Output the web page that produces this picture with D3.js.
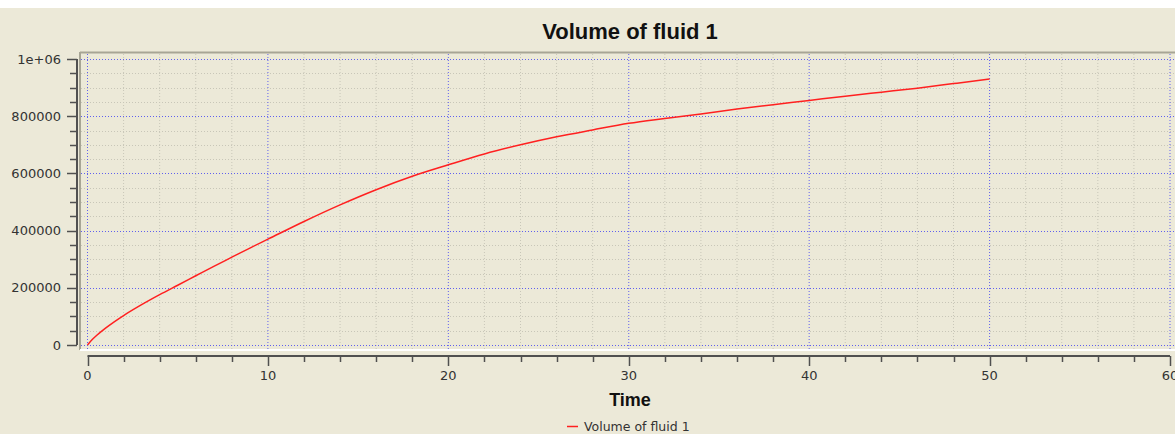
<!DOCTYPE html>
<html>
<head>
<meta charset="utf-8">
<script src="https://cdn.jsdelivr.net/npm/d3@7"></script>
<style>
  body { margin: 0; background: #fff; }
  svg { display: block; }
</style>
</head>
<body>
<script>
// values
var times = [0, 0.25, 0.5, 1, 1.5, 2, 3, 4, 5, 6, 7, 8, 9, 10, 12, 14, 16, 18, 20, 22, 24, 26, 28, 30, 32, 34, 36, 38, 40, 42, 44, 46, 48, 50];
var volumes = [0, 18000, 33000, 59000, 82000, 103000, 141000, 176000, 209000, 242000, 275000, 307000, 339000, 370000, 432000, 490000, 543000, 590000, 630000, 668000, 700000, 728000, 752000, 775000, 792000, 808000, 825000, 840000, 855000, 870000, 884000, 898000, 914000, 930000];
var yTickLabels = ["0", "200000", "400000", "600000", "800000", "1e+06"];
var seriesName = "Volume of fluid 1";

var W = 1175, H = 434;
var bg = "#ece9d8";

var svg = d3.select("body").append("svg")
  .attr("width", W)
  .attr("height", H);

svg.append("rect").attr("x", 0).attr("y", 8).attr("width", W).attr("height", H - 8).attr("fill", bg);

var x = d3.scaleLinear().domain([0, 60]).range([87.5, 1170]);
var y = d3.scaleLinear().domain([0, 1e6]).range([345, 59]);

// plot frame (inset look)
svg.append("line").attr("x1", 80).attr("x2", W).attr("y1", 52.5).attr("y2", 52.5)
  .attr("stroke", "#a7a595").attr("stroke-width", 2);
svg.append("line").attr("x1", 80).attr("x2", 80).attr("y1", 52).attr("y2", 350)
  .attr("stroke", "#a7a595").attr("stroke-width", 2);
svg.append("line").attr("x1", 80).attr("x2", W).attr("y1", 350).attr("y2", 350)
  .attr("stroke", "#ffffff").attr("stroke-width", 2);

var grid = svg.append("g");

// minor grid
d3.range(0, 61, 2).filter(function (d) { return d % 10 != 0; }).forEach(function (d) {
  grid.append("line").attr("x1", x(d)).attr("x2", x(d)).attr("y1", 54).attr("y2", 349)
    .attr("stroke", "#c8c6b8").attr("stroke-width", 1).attr("stroke-dasharray", "1,2");
});
d3.range(0, 1000001, 50000).filter(function (d) { return d % 200000 != 0; }).forEach(function (d) {
  grid.append("line").attr("x1", 81).attr("x2", W).attr("y1", Math.round(y(d)) + 0.5).attr("y2", Math.round(y(d)) + 0.5)
    .attr("stroke", "#c8c6b8").attr("stroke-width", 1).attr("stroke-dasharray", "1,2");
});

// major grid
d3.range(0, 61, 10).forEach(function (d) {
  grid.append("line").attr("x1", x(d)).attr("x2", x(d)).attr("y1", 54).attr("y2", 349)
    .attr("stroke", "#6060ee").attr("stroke-width", 1).attr("stroke-dasharray", "1,2");
});
d3.range(0, 1000001, 200000).forEach(function (d) {
  grid.append("line").attr("x1", 81).attr("x2", W).attr("y1", Math.round(y(d)) + 0.5).attr("y2", Math.round(y(d)) + 0.5)
    .attr("stroke", "#6060ee").attr("stroke-width", 1).attr("stroke-dasharray", "1,2");
});

// curve
var pts = times.map(function (t, i) { return [t, volumes[i]]; });
var line = d3.line()
  .x(function (d) { return x(d[0]); })
  .y(function (d) { return y(d[1]); })
  .curve(d3.curveMonotoneX);
svg.append("path").datum(pts)
  .attr("d", line)
  .attr("fill", "none")
  .attr("stroke", "#ff2020")
  .attr("stroke-width", 1.5);

// y axis
var axisColor = "#505050";
var yAxisG = svg.append("g").attr("transform", "translate(77,0)");
yAxisG.append("line").attr("x1", 0).attr("x2", 0).attr("y1", y(1e6)).attr("y2", y(0))
  .attr("stroke", axisColor).attr("stroke-width", 2);
d3.range(0, 1000001, 50000).forEach(function (d) {
  var major = d % 200000 == 0;
  yAxisG.append("line").attr("x1", major ? -10 : -7).attr("x2", 0)
    .attr("y1", Math.round(y(d)) + 0.5).attr("y2", Math.round(y(d)) + 0.5)
    .attr("stroke", axisColor).attr("stroke-width", 1.5);
});
yAxisG.selectAll("text.ylab")
  .data(yTickLabels)
  .enter()
  .append("text")
  .attr("x", -16)
  .attr("y", function (d, i) { return y(i * 200000) + 4.5; })
  .attr("text-anchor", "end")
  .attr("font-family", "DejaVu Sans, sans-serif")
  .attr("font-size", "13px")
  .attr("fill", "#333")
  .text(function (d) { return d; });

// x axis
var xAxisG = svg.append("g").attr("transform", "translate(0,356)");
xAxisG.append("line").attr("x1", x(0)).attr("x2", x(60)).attr("y1", 0).attr("y2", 0)
  .attr("stroke", axisColor).attr("stroke-width", 2);
d3.range(0, 61, 2).forEach(function (d) {
  var major = d % 10 == 0;
  xAxisG.append("line").attr("x1", Math.round(x(d)) + 0.5).attr("x2", Math.round(x(d)) + 0.5)
    .attr("y1", 0).attr("y2", major ? 10 : 6)
    .attr("stroke", axisColor).attr("stroke-width", 1.5);
});
xAxisG.selectAll("text.xlab")
  .data(d3.range(0, 61, 10))
  .enter()
  .append("text")
  .attr("x", function (d) { return x(d); })
  .attr("y", 24)
  .attr("text-anchor", "middle")
  .attr("font-family", "DejaVu Sans, sans-serif")
  .attr("font-size", "13px")
  .attr("fill", "#333")
  .text(function (d) { return d; });

// title
svg.append("text")
  .attr("x", 630).attr("y", 39)
  .attr("text-anchor", "middle")
  .attr("font-family", "Liberation Sans, Arial, sans-serif")
  .attr("font-weight", "bold")
  .attr("font-size", "22px")
  .attr("fill", "#111")
  .text(seriesName);

svg.append("text")
  .attr("x", 630).attr("y", 406)
  .attr("text-anchor", "middle")
  .attr("font-family", "Liberation Sans, Arial, sans-serif")
  .attr("font-weight", "bold")
  .attr("font-size", "18px")
  .attr("fill", "#111")
  .text("Time");

// legend
svg.append("line").attr("x1", 567).attr("x2", 578).attr("y1", 426.5).attr("y2", 426.5)
  .attr("stroke", "#ff2020").attr("stroke-width", 1.5);
svg.append("text")
  .attr("x", 584).attr("y", 431)
  .attr("font-family", "DejaVu Sans, sans-serif")
  .attr("font-size", "12.5px")
  .attr("fill", "#333")
  .text(seriesName);
</script>
</body>
</html>
